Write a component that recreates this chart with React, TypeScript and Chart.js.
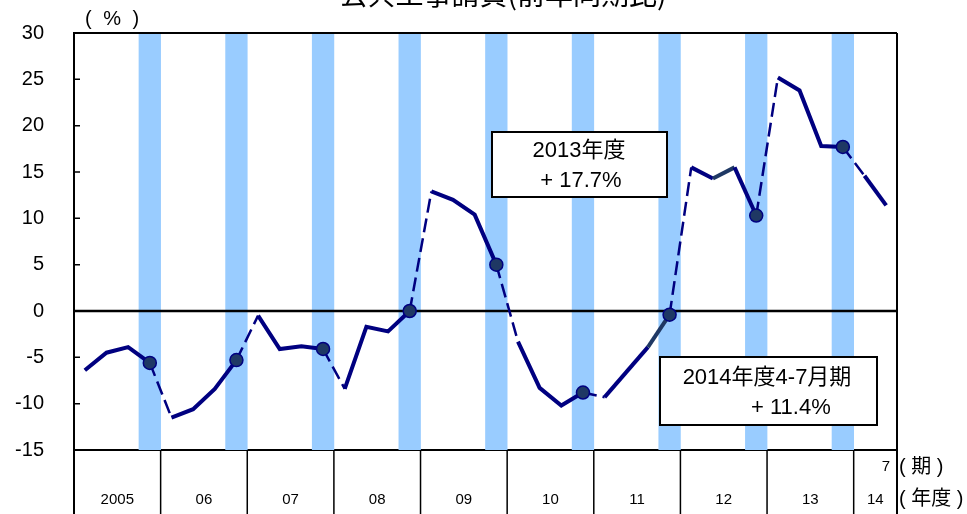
import React, { useEffect, useRef } from 'react';
import { Chart, registerables } from 'chart.js';

Chart.register(...registerables);

// ---- data ----
const chartTitle = '公共工事請負(前年同期比)';
const unitLabel = '( % )';
const fiscalYears = ['2005', '06', '07', '08', '09', '10', '11', '12', '13'];
const slotNames = ['4-6月', '7-9月', '10-12月', '年度'];
const lastYear = '14';
const lastYearSlots = ['4-6月', '4-7月'];
const lastPeriodTick = '7';
const periodUnit = '( 期 )';
const yearUnit = '( 年度 )';

// quarterly growth (3 quarters + fiscal-year value per year), then FY2014
const growth = [
  -6.4, -4.5, -3.9, -5.6,
  -11.5, -10.6, -8.4, -5.3,
  -0.5, -4.1, -3.8, -4.1,
  -8.4, -1.7, -2.2, 0.0,
  12.9, 12.0, 10.4, 5.0,
  -3.3, -8.3, -10.2, -8.8,
  -9.3, -6.6, -3.9, -0.4,
  15.5, 14.3, 15.5, 10.3,
  25.2, 23.8, 17.8, 17.7,
  14.6, 11.4,
];

const bandRange = [-15, 30];
const yMin = -15;
const yMax = 30;
const yStep = 5;

const note2013 = ['2013年度', '+ 17.7%'];
const note2014 = ['2014年度4-7月期', '+ 11.4%'];

// ---- derived tables ----
const periods: string[] = [];
fiscalYears.forEach((y) => slotNames.forEach((s) => periods.push(`${y} ${s}`)));
lastYearSlots.forEach((s) => periods.push(`${lastYear} ${s}`));
const yearCount = fiscalYears.length;
const isAnnual = (i: number) => i % 4 === 3 && i < yearCount * 4;
const bands = periods.map((_, i) => (isAnnual(i) ? bandRange : null));
const tickLabel = (i: number) => {
  if (i < yearCount * 4 && i % 4 === 1) return fiscalYears[(i - 1) / 4];
  if (i === yearCount * 4) return lastYear;
  return '';
};

const NAVY = '#000080';
const SLATE = '#1F3864';
const BAND = '#99CCFF';
const SANS = "'Liberation Sans', Arial, 'Noto Sans CJK JP', sans-serif";
const CJK = "'Noto Sans CJK JP', 'Liberation Sans', sans-serif";

const decor = {
  id: 'decor',
  beforeDatasetDraw(chart: any, args: any) {
    if (args.index !== 0) return;
    const { ctx, chartArea: a } = chart;
    const y0 = chart.scales.y.getPixelForValue(0);
    ctx.save();
    ctx.strokeStyle = '#000';
    ctx.lineWidth = 2.5;
    ctx.beginPath();
    ctx.moveTo(a.left, y0);
    ctx.lineTo(a.right, y0);
    ctx.stroke();
    ctx.restore();
  },
  afterDatasetsDraw(chart: any) {
    const { ctx } = chart;
    const box = (x: number, y: number, w: number, h: number) => {
      ctx.save();
      ctx.fillStyle = '#fff';
      ctx.fillRect(x, y, w, h);
      ctx.strokeStyle = '#000';
      ctx.lineWidth = 2;
      ctx.strokeRect(x, y, w, h);
      ctx.restore();
    };
    ctx.save();
    box(492, 132, 175, 65);
    ctx.fillStyle = '#000';
    ctx.font = `22px ${SANS}`;
    ctx.textBaseline = 'middle';
    ctx.textAlign = 'center';
    ctx.fillText(note2013[0], 579, 151);
    ctx.fillText(note2013[1], 581, 181);
    box(660, 357, 217, 68);
    ctx.fillStyle = '#000';
    ctx.textAlign = 'center';
    ctx.fillText(note2014[0], 767, 378);
    ctx.textAlign = 'left';
    ctx.fillText(note2014[1], 751, 408);
    ctx.restore();
  },
  afterDraw(chart: any) {
    const { ctx, chartArea: a, scales } = chart;
    const x = scales.x;
    const y = scales.y;
    const H = chart.height;
    ctx.save();
    ctx.strokeStyle = '#000';
    ctx.lineWidth = 2;
    ctx.beginPath();
    // top border
    ctx.moveTo(a.left, a.top);
    ctx.lineTo(a.right, a.top);
    // right border down to bottom of table
    ctx.moveTo(a.right, a.top);
    ctx.lineTo(a.right, H);
    // left axis extension
    ctx.moveTo(a.left, a.bottom);
    ctx.lineTo(a.left, H);
    ctx.stroke();
    // year separators
    ctx.lineWidth = 1.5;
    ctx.beginPath();
    for (let k = 1; k <= yearCount; k++) {
      const px = (x.getPixelForValue(4 * k - 1) + x.getPixelForValue(4 * k)) / 2;
      ctx.moveTo(px, a.bottom);
      ctx.lineTo(px, H);
    }
    ctx.stroke();
    // inward y ticks
    ctx.lineWidth = 1.5;
    ctx.beginPath();
    for (let v = yMin; v <= yMax; v += yStep) {
      const py = y.getPixelForValue(v);
      ctx.moveTo(a.left, py);
      ctx.lineTo(a.left + 6, py);
    }
    ctx.stroke();
    // texts
    ctx.fillStyle = '#000';
    ctx.textBaseline = 'middle';
    ctx.font = `15px ${SANS}`;
    ctx.textAlign = 'right';
    ctx.fillText(lastPeriodTick, x.getPixelForValue(periods.length - 1) + 4, 467);
    ctx.textAlign = 'left';
    ctx.font = `20px ${SANS}`;
    ctx.fillText(periodUnit, a.right + 2, 467);
    ctx.fillText(yearUnit, a.right + 2, 499);
    (ctx as any).letterSpacing = '3px';
    ctx.fillText(unitLabel, 85, 19);
    (ctx as any).letterSpacing = '0px';
    ctx.font = `28px ${CJK}`;
    ctx.textAlign = 'center';
    ctx.textBaseline = 'alphabetic';
    ctx.fillText(chartTitle, 503, 5);
    ctx.restore();
  },
};

export default function App() {
  const ref = useRef<HTMLCanvasElement | null>(null);
  useEffect(() => {
    if (!ref.current) return;
    const chart = new Chart(ref.current, {
      type: 'bar',
      data: {
        labels: periods,
        datasets: [
          {
            type: 'line',
            data: growth,
            borderColor: NAVY,
            borderWidth: 4,
            tension: 0,
            fill: false,
            pointRadius: (c: any) => (isAnnual(c.dataIndex) ? 6.5 : 0),
            pointHoverRadius: (c: any) => (isAnnual(c.dataIndex) ? 6.5 : 0),
            pointBackgroundColor: SLATE,
            pointBorderColor: NAVY,
            pointBorderWidth: 1.5,
            segment: {
              borderDash: (c: any) => (isAnnual(c.p0DataIndex) ? [14, 6] : undefined),
              borderWidth: (c: any) => (isAnnual(c.p0DataIndex) ? 2.5 : undefined),
              borderColor: (c: any) => (c.p0DataIndex === 26 || c.p0DataIndex === 29 ? SLATE : undefined),
            },
          } as any,
          {
            type: 'bar',
            data: bands as any,
            backgroundColor: BAND,
            barPercentage: 1,
            categoryPercentage: 1,
            borderWidth: 0,
          },
        ],
      },
      options: {
        animation: false,
        responsive: false,
        devicePixelRatio: 1,
        layout: { padding: { top: 33, right: 70, left: 0, bottom: 0 } },
        plugins: {
          legend: { display: false },
          tooltip: { enabled: false },
          title: { display: false },
        },
        scales: {
          x: {
            offset: true,
            grid: { display: false, drawTicks: false },
            border: { display: true, color: '#000', width: 2 },
            ticks: {
              autoSkip: false,
              maxRotation: 0,
              minRotation: 0,
              padding: 41,
              labelOffset: 10.8,
              color: '#000',
              font: { family: SANS, size: 15 },
              callback: (_v: any, i: number) => tickLabel(i),
            },
            afterFit: (s: any) => {
              s.height = 64;
            },
          },
          y: {
            min: yMin,
            max: yMax,
            ticks: {
              stepSize: yStep,
              padding: 0,
              color: '#000',
              font: { family: SANS, size: 20 },
            },
            grid: {
              display: true,
              drawOnChartArea: false,
              drawTicks: true,
              tickLength: 30,
              color: 'rgba(0,0,0,0)',
            },
            border: { display: true, color: '#000', width: 2 },
            afterFit: (s: any) => {
              s.width = 74;
            },
          },
        },
      },
      plugins: [decor],
    });
    return () => chart.destroy();
  }, []);
  return (
    <div style={{ position: 'absolute', left: 0, top: 0, width: 967, height: 514, background: '#fff' }}>
      <canvas ref={ref} width={967} height={514} />
    </div>
  );
}
